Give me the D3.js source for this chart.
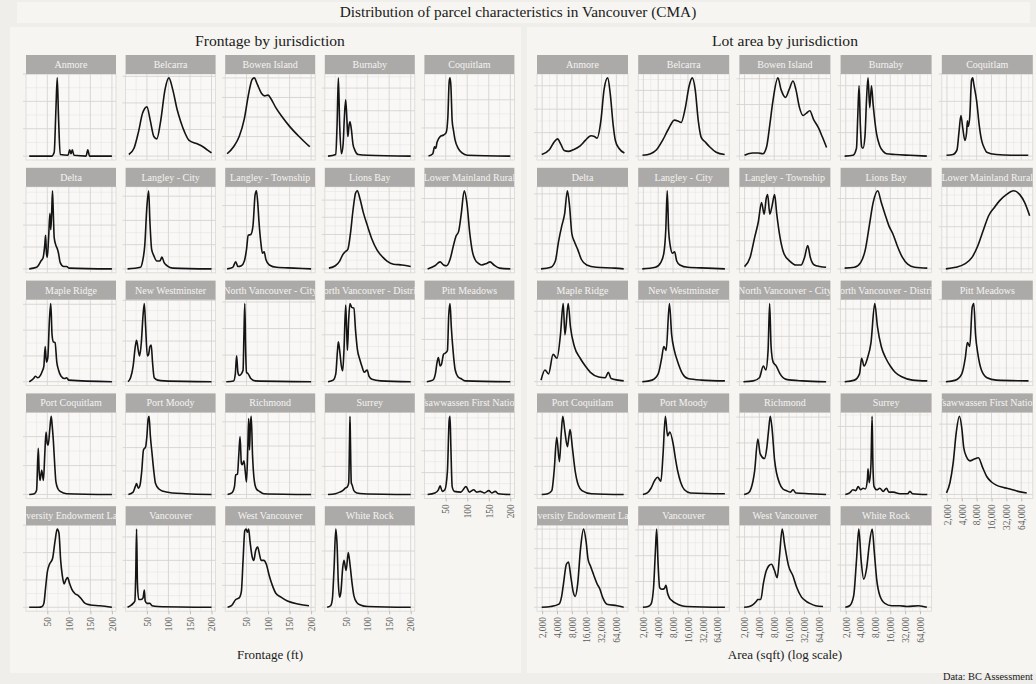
<!DOCTYPE html>
<html>
<head>
<meta charset="utf-8">
<style>
body { margin: 0; background: #f0eeea; }
svg { display: block; font-family: "Liberation Serif", "Times New Roman", serif; }
</style>
</head>
<body>
<svg></svg>
<script src="https://cdn.jsdelivr.net/npm/d3@7"></script>
<script>
// facet order, left to right, top to bottom
var jurisdictions = ["Anmore", "Belcarra", "Bowen Island", "Burnaby", "Coquitlam",
  "Delta", "Langley - City", "Langley - Township", "Lions Bay", "Lower Mainland Rural",
  "Maple Ridge", "New Westminster", "North Vancouver - City", "North Vancouver - District", "Pitt Meadows",
  "Port Coquitlam", "Port Moody", "Richmond", "Surrey", "Tsawwassen First Nation",
  "University Endowment Lands", "Vancouver", "West Vancouver", "White Rock"];

// frontage (ft) vs density, peak scaled to 1
var frontage = [
  [[8,0],[60,0],[66,0.05],[70,0.6],[73,1],[76,0.5],[80,0.02],[98,0.01],[102,0.08],[105,0.03],[108,0.08],[112,0.01],[140,0],[144,0.08],[148,0],[200,0]],
  [[8,0.02],[20,0.1],[30,0.3],[40,0.55],[50,0.63],[58,0.45],[66,0.25],[73,0.22],[82,0.45],[92,0.85],[101,1],[110,0.85],[120,0.6],[128,0.45],[138,0.3],[148,0.2],[165,0.16],[180,0.12],[190,0.08],[200,0.04]],
  [[5,0.03],[20,0.12],[33,0.25],[45,0.48],[55,0.8],[63,0.98],[68,1],[75,0.92],[85,0.8],[92,0.77],[100,0.78],[106,0.74],[118,0.62],[133,0.5],[150,0.38],[172,0.25],[185,0.18],[197,0.12]],
  [[8,0],[26,0.02],[29,0.4],[32,1],[35,0.4],[39,0.03],[43,0.15],[46,0.5],[49,0.72],[52,0.45],[54,0.25],[57,0.4],[59,0.44],[62,0.35],[66,0.15],[70,0.08],[78,0.02],[100,0.01],[200,0]],
  [[10,0],[20,0.03],[24,0.12],[27,0.1],[30,0.18],[37,0.25],[45,0.27],[51,0.3],[55,0.5],[58,0.95],[60,1],[62,0.9],[65,0.45],[68,0.33],[72,0.2],[79,0.1],[88,0.04],[100,0.01],[200,0]],
  [[8,0],[25,0.02],[30,0.05],[35,0.1],[40,0.14],[44,0.3],[46,0.43],[48,0.2],[50,0.15],[53,0.4],[56,0.71],[58,0.5],[60,0.7],[62,1],[64,0.7],[66,0.4],[70,0.3],[73,0.26],[76,0.2],[80,0.08],[88,0.03],[95,0.03],[100,0.01],[200,0]],
  [[5,0],[35,0.02],[40,0.1],[45,0.3],[50,0.8],[54,1],[57,0.6],[61,0.25],[66,0.17],[73,0.1],[80,0.1],[85,0.15],[90,0.08],[97,0.04],[110,0.01],[200,0]],
  [[5,0],[18,0.02],[25,0.09],[30,0.03],[38,0.04],[45,0.1],[50,0.25],[54,0.43],[60,0.44],[65,0.55],[70,0.95],[73,1],[76,0.85],[79,0.6],[83,0.35],[87,0.2],[91,0.22],[95,0.12],[103,0.05],[120,0.02],[160,0.01],[200,0]],
  [[10,0.01],[25,0.04],[35,0.1],[42,0.18],[48,0.22],[54,0.25],[60,0.45],[66,0.75],[72,0.97],[76,1],[82,0.9],[90,0.72],[99,0.56],[110,0.38],[122,0.24],[135,0.15],[145,0.1],[160,0.06],[180,0.05],[200,0.03]],
  [[8,0],[25,0.04],[37,0.09],[45,0.05],[52,0.04],[60,0.12],[68,0.3],[74,0.42],[80,0.48],[86,0.7],[93,1],[99,0.85],[106,0.45],[112,0.22],[118,0.12],[126,0.07],[133,0.05],[145,0.07],[153,0.09],[162,0.05],[175,0.01],[200,0]],
  [[8,0],[18,0.04],[22,0.07],[28,0.05],[34,0.08],[38,0.13],[42,0.2],[45,0.45],[48,0.25],[51,0.3],[55,0.8],[58,1],[61,0.6],[64,0.51],[68,0.5],[72,0.25],[76,0.15],[82,0.07],[90,0.04],[95,0.05],[100,0.02],[200,0]],
  [[6,0],[12,0.05],[18,0.2],[23,0.45],[26,0.53],[30,0.4],[33,0.33],[37,0.5],[41,0.85],[44,1],[47,0.7],[51,0.33],[54,0.35],[57,0.45],[60,0.47],[63,0.25],[67,0.05],[75,0.02],[90,0.01],[200,0]],
  [[3,0],[20,0.01],[24,0.1],[27,0.33],[30,0.12],[33,0.08],[38,0.1],[42,0.15],[44,0.6],[46,1],[48,0.4],[50,0.12],[54,0.1],[60,0.04],[70,0.01],[200,0]],
  [[8,0],[20,0.02],[26,0.1],[30,0.4],[32,0.51],[35,0.4],[39,0.2],[42,0.14],[45,0.4],[49,0.98],[51,0.7],[53,0.4],[56,0.8],[59,1],[63,0.95],[68,0.94],[72,0.65],[76,0.42],[82,0.28],[87,0.19],[92,0.12],[99,0.15],[103,0.07],[110,0.03],[130,0.01],[200,0]],
  [[6,0],[20,0.02],[26,0.1],[30,0.25],[33,0.31],[37,0.2],[40,0.22],[45,0.35],[50,0.37],[54,0.4],[57,0.85],[60,1],[63,0.7],[67,0.4],[72,0.15],[79,0.06],[85,0.04],[95,0.01],[200,0]],
  [[8,0],[20,0.01],[25,0.05],[29,0.59],[31,0.3],[33,0.18],[37,0.31],[41,0.18],[44,0.5],[47,0.8],[50,0.65],[52,0.63],[56,0.85],[59,1],[61,0.9],[64,0.69],[67,0.4],[70,0.16],[75,0.07],[80,0.04],[95,0.01],[200,0]],
  [[7,0],[18,0.03],[23,0.1],[26,0.14],[30,0.08],[34,0.12],[38,0.3],[42,0.57],[47,0.61],[50,0.75],[53,0.97],[55,1],[58,0.75],[62,0.52],[66,0.3],[70,0.14],[78,0.07],[88,0.04],[110,0.02],[140,0.01],[200,0]],
  [[6,0],[16,0.02],[22,0.1],[25,0.25],[29,0.26],[32,0.5],[35,0.74],[38,0.4],[40,0.38],[44,0.43],[47,0.3],[50,0.16],[53,0.6],[55,0.97],[57,0.57],[59,0.9],[61,1],[64,0.5],[68,0.18],[73,0.07],[80,0.04],[90,0.01],[200,0]],
  [[8,0],[25,0.01],[35,0.03],[42,0.05],[48,0.08],[53,0.1],[56,0.15],[58,0.7],[59,1],[60,0.7],[62,0.15],[64,0.12],[68,0.05],[75,0.02],[90,0.01],[200,0]],
  [[8,0],[25,0.02],[33,0.06],[37,0.11],[42,0.04],[48,0.06],[54,0.3],[58,0.95],[60,1],[62,0.6],[65,0.1],[70,0.04],[85,0.03],[97,0.1],[105,0.03],[115,0.06],[122,0.03],[130,0.04],[140,0.02],[150,0.05],[157,0.02],[165,0.04],[172,0.01],[200,0]],
  [[8,0],[30,0],[38,0.01],[42,0.05],[46,0.25],[50,0.45],[55,0.55],[62,0.62],[68,0.85],[73,1],[77,0.95],[81,0.6],[85,0.4],[89,0.3],[93,0.35],[97,0.38],[102,0.3],[107,0.23],[115,0.17],[122,0.15],[130,0.1],[138,0.05],[150,0.03],[172,0.02],[200,0]],
  [[5,0],[12,0.02],[18,0.05],[22,0.08],[24,0.4],[26,1],[28,0.3],[31,0.1],[37,0.1],[41,0.12],[44,0.22],[46,0.08],[50,0.05],[57,0.05],[62,0.02],[75,0.01],[200,0]],
  [[6,0],[15,0.02],[25,0.1],[33,0.12],[38,0.2],[42,0.6],[46,0.98],[49,1],[52,0.96],[55,1],[58,0.85],[63,0.65],[67,0.6],[71,0.72],[76,0.77],[80,0.68],[84,0.6],[90,0.6],[96,0.55],[103,0.4],[110,0.28],[118,0.18],[130,0.13],[145,0.08],[172,0.04],[195,0.02]],
  [[6,0],[14,0.02],[18,0.1],[22,0.5],[26,1],[29,0.8],[32,0.3],[35,0.13],[38,0.2],[42,0.5],[45,0.6],[50,0.47],[55,0.7],[59,0.55],[64,0.3],[68,0.15],[75,0.06],[83,0.03],[100,0.01],[200,0]]
];

// lot area (sqft) vs density, peak scaled to 1
var lotArea = [
  [[1960,0.02],[2800,0.08],[3500,0.18],[4100,0.22],[4800,0.15],[5600,0.07],[6800,0.06],[8500,0.08],[11800,0.13],[15000,0.2],[19600,0.26],[23000,0.25],[26000,0.23],[31000,0.45],[36000,0.85],[42600,1],[48000,0.8],[55000,0.4],[61000,0.2],[72000,0.1],[93000,0.04]],
  [[1920,0.01],[2800,0.03],[3700,0.08],[4900,0.2],[6500,0.35],[8500,0.46],[10000,0.45],[11650,0.43],[14000,0.6],[17000,0.9],[19600,1],[22500,0.85],[26000,0.45],[29800,0.24],[36000,0.18],[44000,0.12],[60000,0.05],[89000,0.02]],
  [[2000,0.01],[2900,0.04],[3800,0.04],[4700,0.03],[5600,0.12],[6500,0.4],[7500,0.7],[9490,1],[11000,0.85],[13600,0.75],[16000,0.85],[19200,0.96],[22000,0.85],[26000,0.62],[30700,0.52],[36000,0.55],[42000,0.58],[50000,0.47],[62000,0.37],[75000,0.25],[92000,0.11]],
  [[1900,0],[2800,0.01],[3300,0.1],[3500,0.5],[3720,0.9],[3950,0.4],[4200,0.12],[4480,0.1],[4900,0.25],[5300,0.75],[5660,1],[6130,0.62],[6640,0.9],[7200,0.65],[8400,0.29],[9800,0.13],[11500,0.06],[13400,0.03],[20000,0.02],[40000,0.01],[88000,0]],
  [[1960,0.01],[2670,0.02],[3200,0.08],[3500,0.3],[3840,0.52],[4200,0.35],[4630,0.2],[5000,0.3],[5200,0.45],[5400,0.38],[5800,0.5],[6300,0.97],[6640,1],[7000,0.92],[8020,0.7],[9000,0.4],[10100,0.2],[11500,0.1],[12800,0.05],[20000,0.02],[40000,0.01],[89000,0.01]],
  [[1900,0],[3000,0.02],[3700,0.1],[4300,0.35],[5000,0.55],[5700,0.7],[6500,1],[7200,0.8],[8000,0.45],[9000,0.35],[10500,0.25],[12500,0.12],[16000,0.05],[25000,0.02],[60000,0.01],[90000,0]],
  [[1900,0],[3500,0.02],[4500,0.08],[5200,0.2],[5700,0.5],[6100,1],[6500,0.5],[7000,0.3],[7800,0.2],[8600,0.22],[9500,0.1],[11000,0.05],[16000,0.02],[40000,0.01],[90000,0]],
  [[2000,0.03],[2600,0.15],[3200,0.4],[3800,0.6],[4420,0.85],[5000,0.7],[5500,0.9],[5880,0.95],[6500,0.7],[7200,0.8],[8130,0.95],[9000,0.7],[10500,0.4],[12500,0.2],[16500,0.1],[22000,0.05],[28000,0.05],[33000,0.15],[38200,0.3],[43000,0.15],[52000,0.05],[67000,0.03],[90000,0.02]],
  [[1900,0.01],[3000,0.02],[4000,0.08],[5000,0.25],[6000,0.55],[7200,0.85],[8900,1],[10500,0.85],[12500,0.7],[15000,0.55],[18000,0.45],[22000,0.3],[28000,0.15],[36000,0.06],[50000,0.02],[90000,0.01]],
  [[1900,0],[3000,0.02],[4500,0.06],[6500,0.15],[8500,0.3],[11000,0.5],[14000,0.68],[18000,0.78],[24000,0.88],[32000,0.95],[45000,1],[60000,0.95],[75000,0.85],[95000,0.68]],
  [[1900,0.02],[2280,0.15],[2700,0.1],[3330,0.35],[4000,0.3],[4700,0.6],[5340,1],[5800,0.6],[6750,1],[7500,0.7],[9000,0.45],[11800,0.3],[15000,0.2],[19000,0.12],[28000,0.06],[38000,0.05],[44000,0.12],[50000,0.04],[90000,0.01]],
  [[1900,0],[3000,0.02],[4000,0.1],[4700,0.3],[5200,0.45],[5800,0.4],[6750,1],[7500,0.6],[8500,0.4],[10000,0.25],[12500,0.1],[16000,0.04],[30000,0.02],[90000,0.01]],
  [[1900,0],[3000,0.01],[4000,0.05],[4800,0.2],[5400,0.15],[6000,0.4],[6450,1],[6900,0.45],[7600,0.25],[8800,0.2],[10500,0.1],[14000,0.03],[30000,0.01],[90000,0]],
  [[1900,0],[3000,0.02],[3800,0.1],[4200,0.3],[4700,0.2],[5500,0.3],[6500,0.5],[7750,1],[8800,0.7],[10500,0.45],[13000,0.3],[16000,0.2],[20000,0.12],[28000,0.06],[45000,0.02],[90000,0.01]],
  [[1900,0],[3000,0.02],[4000,0.1],[4700,0.3],[5200,0.5],[5800,0.45],[6500,0.95],[7000,1],[7600,0.6],[8500,0.35],[10000,0.15],[13000,0.05],[20000,0.02],[90000,0.01]],
  [[1960,0],[2600,0.01],[3140,0.05],[3500,0.3],[3950,0.73],[4480,0.42],[4900,0.8],[5240,1],[5800,0.8],[6500,0.61],[7000,0.75],[7380,0.83],[8200,0.6],[9350,0.3],[10800,0.12],[12800,0.05],[20000,0.01],[90000,0]],
  [[1960,0],[2400,0.02],[2860,0.08],[3400,0.18],[3890,0.22],[4540,0.17],[5000,0.5],[5590,1],[6200,0.75],[6880,0.8],[8130,0.63],[9000,0.45],[9940,0.3],[11500,0.15],[13600,0.06],[18000,0.02],[90000,0.01]],
  [[1960,0],[2400,0.02],[2720,0.08],[3200,0.3],[3720,0.71],[4150,0.52],[5070,0.46],[5660,0.6],[6100,0.8],[6640,1],[7200,0.85],[8130,0.44],[10300,0.14],[12000,0.07],[14000,0.05],[17000,0.03],[19200,0.06],[22000,0.02],[40000,0.01],[90000,0]],
  [[1960,0],[2400,0.02],[2800,0.06],[3200,0.05],[3570,0.1],[4000,0.06],[4480,0.08],[5000,0.07],[5500,0.2],[5660,0.33],[6000,0.15],[6500,0.4],[6840,1],[7100,0.4],[7500,0.1],[8500,0.06],[9800,0.08],[11500,0.04],[13400,0.08],[15000,0.03],[18500,0.03],[25000,0.01],[36000,0.01],[40000,0.04],[45000,0.01],[90000,0]],
  [[1960,0.02],[2300,0.15],[2670,0.4],[3100,0.8],[3570,1],[4000,0.85],[4380,0.6],[5000,0.48],[5860,0.43],[7000,0.45],[8690,0.47],[10500,0.35],[12800,0.23],[16000,0.16],[20000,0.12],[28000,0.09],[38000,0.07],[55000,0.04],[83000,0.02]],
  [[1960,0],[3000,0.01],[4380,0.04],[5000,0.15],[5410,0.3],[6200,0.55],[6840,0.58],[7600,0.4],[8500,0.2],[9350,0.14],[10500,0.3],[12000,0.75],[13800,1],[15500,0.85],[17000,0.62],[19000,0.53],[22000,0.42],[26000,0.3],[29300,0.24],[34000,0.12],[41000,0.04],[66000,0.02],[90000,0]],
  [[1960,0],[2500,0.01],[2860,0.04],[3220,0.25],[3500,0.7],[3720,1],[3950,0.6],[4290,0.25],[4800,0.23],[5340,0.24],[5740,0.28],[6200,0.18],[6750,0.12],[7800,0.08],[9200,0.05],[12000,0.02],[14800,0.01],[90000,0]],
  [[1960,0],[2500,0.01],[2930,0.03],[3500,0.08],[3720,0.1],[4270,0.1],[4800,0.3],[5530,0.47],[6200,0.53],[7030,0.55],[8000,0.48],[9200,0.38],[10200,0.65],[11600,1],[13000,0.8],[15600,0.53],[19200,0.4],[23000,0.25],[28600,0.13],[35000,0.08],[42000,0.05],[55000,0.02],[78000,0.01]],
  [[1960,0],[2400,0.02],[2900,0.15],[3300,0.6],[3680,1],[4100,0.6],[4630,0.36],[5300,0.5],[6000,0.8],[6880,1],[7600,0.7],[8500,0.35],[9800,0.15],[12400,0.05],[17000,0.02],[25000,0.02],[35000,0.01],[60000,0.02],[88000,0]]
];

var frontageTicks = [50, 100, 150, 200];
var frontageMinor = [25, 75, 125, 175];
var areaTicks = [2000, 4000, 8000, 16000, 32000, 64000];
var areaMinor = [2828, 5657, 11314, 22627, 45255, 90510];

// spacing of y breaks, as share of each panel's peak
var frontageStep = [0.35, 0.34, 0.25, 0.29, 0.36, 0.28, 0.31, 0.27, 0.22, 0.3,
  0.33, 0.26, 0.34, 0.3, 0.27, 0.37, 0.3, 0.31, 0.36, 0.28, 0.35, 0.3, 0.28, 0.36];
var areaStep = [0.3, 0.28, 0.33, 0.3, 0.35, 0.32, 0.28, 0.36, 0.3, 0.27,
  0.3, 0.34, 0.29, 0.31, 0.35, 0.36, 0.3, 0.33, 0.29, 0.3, 0.25, 0.33, 0.3, 0.27];

var width = 1036, height = 684;

var svg = d3.select("svg")
    .attr("width", width)
    .attr("height", height);

svg.append("rect").attr("width", width).attr("height", height).attr("fill", "#f0eeea");
svg.append("rect").attr("x", 17).attr("y", 2).attr("width", 1013).attr("height", 21).attr("fill", "#f6f5f1");
svg.append("rect").attr("x", 10).attr("y", 27).attr("width", 511).attr("height", 646).attr("fill", "#f6f5f1");
svg.append("rect").attr("x", 527).attr("y", 27).attr("width", 509).attr("height", 646).attr("fill", "#f6f5f1");

svg.append("text")
    .attr("x", 518).attr("y", 17)
    .attr("text-anchor", "middle")
    .attr("font-size", 15.3)
    .attr("fill", "#1a1a1a")
    .text("Distribution of parcel characteristics in Vancouver (CMA)");

svg.append("text")
    .attr("x", 1033).attr("y", 680)
    .attr("text-anchor", "end")
    .attr("font-size", 10.4)
    .attr("fill", "#1a1a1a")
    .text("Data: BC Assessment");

var rowTop = 55, rowPitch = 112.8, stripH = 19, plotH = 86;

var line = d3.line().curve(d3.curveMonotoneX);

function facets(opts) {
  var g = svg.append("g");

  g.append("text")
      .attr("x", opts.cx).attr("y", 46)
      .attr("text-anchor", "middle")
      .attr("font-size", 15.6)
      .attr("fill", "#1a1a1a")
      .text(opts.title);

  g.append("text")
      .attr("x", opts.cx).attr("y", 659)
      .attr("text-anchor", "middle")
      .attr("font-size", 13)
      .attr("fill", "#1a1a1a")
      .text(opts.xTitle);

  jurisdictions.forEach(function(name, i) {
    var col = i % 5, row = Math.floor(i / 5);
    var px = opts.x0 + col * opts.pitch;
    var sy = rowTop + row * rowPitch;
    var py = sy + stripH;

    var x = opts.scale.copy().range([px, px + opts.w]);
    var y = d3.scaleLinear().domain([-0.05, 1.05]).range([py + plotH, py]);

    var p = g.append("g");

    p.append("rect")
        .attr("x", px).attr("y", py)
        .attr("width", opts.w).attr("height", plotH)
        .attr("fill", "#f9f8f6");

    var step = opts.steps[i];
    var yMajor = d3.range(0, 1.05, step);
    var yMinor = d3.range(step / 2, 1.05, step);

    p.selectAll(".vmin").data(opts.minor).enter().append("line")
        .attr("x1", x).attr("x2", x)
        .attr("y1", py).attr("y2", py + plotH)
        .attr("stroke", "#e4e2df").attr("stroke-width", 0.5);
    p.selectAll(".hmin").data(yMinor).enter().append("line")
        .attr("x1", px).attr("x2", px + opts.w)
        .attr("y1", y).attr("y2", y)
        .attr("stroke", "#e4e2df").attr("stroke-width", 0.5);
    p.selectAll(".vmaj").data(opts.ticks).enter().append("line")
        .attr("x1", x).attr("x2", x)
        .attr("y1", py).attr("y2", py + plotH)
        .attr("stroke", "#d6d4d1").attr("stroke-width", 0.9);
    p.selectAll(".hmaj").data(yMajor).enter().append("line")
        .attr("x1", px - 3).attr("x2", px + opts.w)
        .attr("y1", y).attr("y2", y)
        .attr("stroke", "#d6d4d1").attr("stroke-width", 0.9);

    p.append("rect")
        .attr("x", px).attr("y", py)
        .attr("width", opts.w).attr("height", plotH)
        .attr("fill", "none")
        .attr("stroke", "#d9d7d4").attr("stroke-width", 0.8);

    // strip, text clipped to its box as in the source
    var clipId = opts.id + "-clip-" + i;
    svg.append("clipPath").attr("id", clipId)
      .append("rect")
        .attr("x", px).attr("y", sy)
        .attr("width", opts.w).attr("height", stripH);

    p.append("rect")
        .attr("x", px).attr("y", sy)
        .attr("width", opts.w).attr("height", stripH)
        .attr("fill", "#acaaa8");
    p.append("text")
        .attr("clip-path", "url(#" + clipId + ")")
        .attr("x", px + opts.w / 2).attr("y", sy + 13)
        .attr("text-anchor", "middle")
        .attr("font-size", 10)
        .attr("fill", "#f4f3f1")
        .text(name);

    p.append("path")
        .datum(opts.data[i])
        .attr("fill", "none")
        .attr("stroke", "#141414")
        .attr("stroke-width", 1.6)
        .attr("stroke-linejoin", "round")
        .attr("d", line.x(function(d) { return x(d[0]); }).y(function(d) { return y(d[1]); }));

    // x axis under the lowest panel of each column
    var lowest = (row === 4) || (row === 3 && col === 4);
    if (lowest) {
      var axis = d3.axisBottom(x)
          .tickValues(opts.ticks)
          .tickSize(3)
          .tickFormat(opts.fmt);
      var ag = p.append("g")
          .attr("transform", "translate(0," + (py + plotH) + ")")
          .call(axis);
      ag.select(".domain").remove();
      ag.selectAll(".tick line").attr("stroke", "#bdbbb8");
      ag.selectAll(".tick text")
          .attr("font-family", "Liberation Serif, serif")
          .attr("font-size", 9.3)
          .attr("fill", "#5a5a5a")
          .attr("transform", "rotate(-90)")
          .attr("text-anchor", "end")
          .attr("x", -6).attr("y", 0).attr("dy", "0.35em");
    }
  });
}

facets({
  id: "front",
  title: "Frontage by jurisdiction",
  xTitle: "Frontage (ft)",
  cx: 270,
  x0: 26, pitch: 99.6, w: 90,
  scale: d3.scaleLinear().domain([0.5, 209.5]),
  ticks: frontageTicks,
  minor: frontageMinor,
  fmt: d3.format("d"),
  steps: frontageStep,
  data: frontage
});

facets({
  id: "area",
  title: "Lot area by jurisdiction",
  xTitle: "Area (sqft) (log scale)",
  cx: 785,
  x0: 537, pitch: 101.2, w: 91,
  scale: d3.scaleLog().domain([1573, 110000]),
  ticks: areaTicks,
  minor: areaMinor,
  fmt: d3.format(","),
  steps: areaStep,
  data: lotArea
});
</script>
</body>
</html>
